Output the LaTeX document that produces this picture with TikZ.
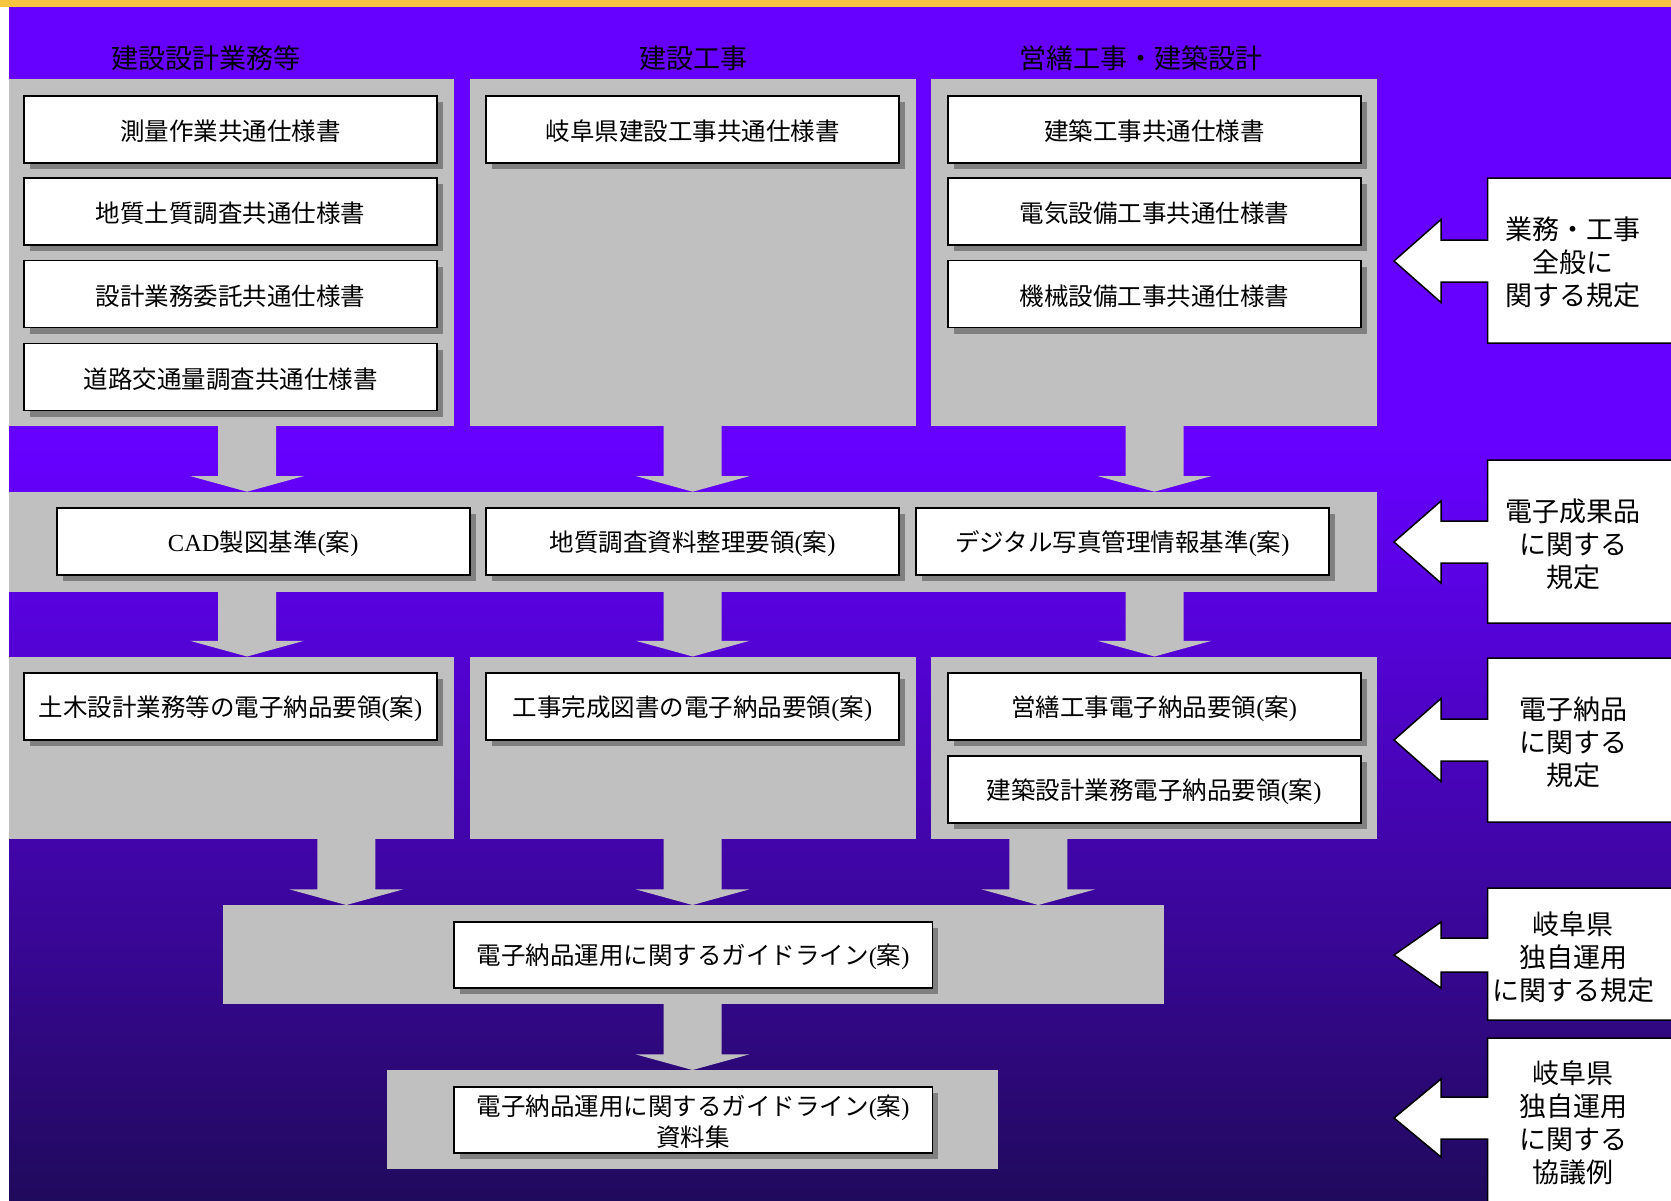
\documentclass[tikz,border=0pt]{standalone}
\usepackage{fontspec}
\setmainfont{Noto Sans CJK JP}
\newfontfamily\latf{Liberation Serif}
\usetikzlibrary{calc,shadows}
\definecolor{panelgray}{HTML}{C0C0C0}
\definecolor{shadowgray}{HTML}{808080}
\definecolor{violettop}{RGB}{102,0,255}
\definecolor{violetbot}{RGB}{32,10,92}
\definecolor{bandyellow}{RGB}{247,198,64}
\newcommand\anp[1]{{\latf(}#1{\latf)}}
\newcommand\panelnode[5]{%
  \node[panel, minimum width={#4pt-#2pt}, minimum height={#5pt-#3pt}] (#1) at ({(#2+#4)/2},{(#3+#5)/2}) {};}
\newcommand\blockarrow[3]{%
  \fill[panelgray] let \p1=(#2.south), \p2=(#3.north) in
  (#1pt-29pt,\y1) -- (#1pt+29pt,\y1) -- (#1pt+29pt,\y2+15.7pt) -- (#1pt+57pt,\y2+15.7pt)
  -- (#1pt,\y2) -- (#1pt-57pt,\y2+15.7pt) -- (#1pt-29pt,\y2+15.7pt) -- cycle;}
\newcommand\callout[5]{%
  \draw[calloutshape] (1394,#3) -- (1441,#3-#4) -- (1441,#3-#5) -- (1487.5,#3-#5)
  -- (1487.5,#1) -- (1700,#1) -- (1700,#2) -- (1487.5,#2) -- (1487.5,#3+#5)
  -- (1441,#3+#5) -- (1441,#3+#4) -- cycle;}
% box with text set 2px lower than the box centre
\newcommand\docnode[5][docbox]{%
  \node[#1] (#2) at (#3,#4) {};
  \node[boxtext] (#2t) at (#3,#4+2) {#5};}
\begin{document}
\begin{tikzpicture}[x=1pt,y=-1pt,
  panel/.style={fill=panelgray, draw=none, inner sep=0pt, outer sep=0pt},
  docbox/.style={draw=black, line width=1.6pt, fill=white, minimum width=413pt,
    minimum height=67pt, inner sep=0pt,
    drop shadow={shadow xshift=6pt, shadow yshift=-6pt, fill=shadowgray, opacity=1}},
  widebox/.style={docbox, minimum width=478.5pt, minimum height=66pt},
  boxtext/.style={inner sep=0pt, align=center, font=\fontsize{24.5}{31}\selectfont},
  heading/.style={font=\fontsize{27}{33}\selectfont, text=black, inner sep=0pt},
  callouttext/.style={font=\fontsize{27}{33}\selectfont, align=center, inner sep=0pt},
  calloutshape/.style={draw=black, line width=1.5pt, fill=white, line join=miter}]
\useasboundingbox (0,0) rectangle (1671,1200);
\clip (0,0) rectangle (1671,1200);
% background
\fill[white] (0,0) rectangle (1671,1200);
\fill[violettop] (9,7) rectangle (1671,451);
\shade[top color=violettop, bottom color=violetbot] (9,450) rectangle (1671,1200);
\fill[bandyellow] (0,0) rectangle (1671,7);
% panels
\panelnode{p1a}{8.5}{79}{454}{425.7}
\panelnode{p1b}{470}{79}{915.5}{425.7}
\panelnode{p1c}{931.4}{79}{1377}{425.7}
\panelnode{p2}{8.5}{491.7}{1377}{591.7}
\panelnode{p3a}{8.5}{656.5}{454}{838.7}
\panelnode{p3b}{470}{656.5}{915.5}{838.7}
\panelnode{p3c}{931.4}{656.5}{1377}{838.7}
\panelnode{p4}{222.7}{905}{1163.7}{1004}
\panelnode{p5}{387}{1070}{997.5}{1169}
% block arrows
\blockarrow{247}{p1a}{p2}
\blockarrow{692.7}{p1b}{p2}
\blockarrow{1154.5}{p1c}{p2}
\blockarrow{247}{p2}{p3a}
\blockarrow{692.7}{p2}{p3b}
\blockarrow{1154.5}{p2}{p3c}
\blockarrow{346.3}{p3a}{p4}
\blockarrow{692.5}{p3b}{p4}
\blockarrow{1038.3}{p3c}{p4}
\blockarrow{692.5}{p4}{p5}
% headings
\node[heading] (h1) at (206,58) {建設設計業務等};
\node[heading] (h2) at (693,58) {建設工事};
\node[heading] (h3) at (1141,58) {営繕工事・建築設計};
% row 1
\docnode{b11}{230.5}{129.5}{測量作業共通仕様書}
\docnode{b12}{230.5}{211.5}{地質土質調査共通仕様書}
\docnode{b13}{230.5}{294}{設計業務委託共通仕様書}
\docnode{b14}{230.5}{377}{道路交通量調査共通仕様書}
\docnode{b21}{692.7}{129.5}{岐阜県建設工事共通仕様書}
\docnode{b31}{1154.7}{129.5}{建築工事共通仕様書}
\docnode{b32}{1154.7}{211.5}{電気設備工事共通仕様書}
\docnode{b33}{1154.7}{294}{機械設備工事共通仕様書}
% row 2
\docnode{c1}{263.2}{541.5}{{\latf CAD}製図基準\anp{案}}
\docnode{c2}{692.5}{541.5}{地質調査資料整理要領\anp{案}}
\docnode{c3}{1122.4}{541.5}{デジタル写真管理情報基準\anp{案}}
% row 3
\docnode{d1}{230.5}{706.5}{土木設計業務等の電子納品要領\anp{案}}
\docnode{d2}{692.5}{706.5}{工事完成図書の電子納品要領\anp{案}}
\docnode{d3}{1154.2}{706.5}{営繕工事電子納品要領\anp{案}}
\docnode{d4}{1154.2}{789.7}{建築設計業務電子納品要領\anp{案}}
% row 4, 5
\docnode[widebox]{e1}{693.2}{955}{電子納品運用に関するガイドライン\anp{案}}
\docnode[widebox]{f1}{693.2}{1120}{電子納品運用に関するガイドライン\anp{案}\\資料集}
% callouts
\callout{178}{343}{261}{41.5}{21}
\node[callouttext] (k1) at (1573,262.5) {業務・工事\\全般に\\関する規定};
\callout{460}{623}{542}{41}{21}
\node[callouttext] (k2) at (1573,544) {電子成果品\\に関する\\規定};
\callout{658}{822}{740}{41.5}{21}
\node[callouttext] (k3) at (1573,742) {電子納品\\に関する\\規定};
\callout{888}{1020}{955}{33}{17}
\node[callouttext] (k4) at (1573,957) {岐阜県\\独自運用\\に関する規定};
\callout{1038}{1230}{1118}{39}{21}
\node[callouttext] (k5) at (1573,1123) {岐阜県\\独自運用\\に関する\\協議例};
\end{tikzpicture}
\end{document}
